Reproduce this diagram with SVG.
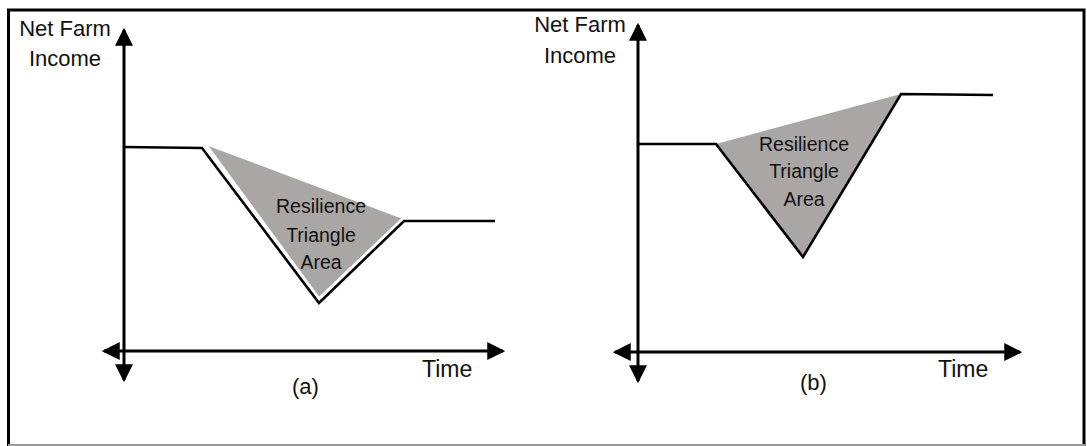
<svg xmlns="http://www.w3.org/2000/svg" width="1087" height="446" viewBox="0 0 1087 446">
<style>
  .axis { stroke:#000; stroke-width:3; fill:none; }
  .curve { stroke:#000; stroke-width:2.6; fill:none; stroke-linejoin:miter; }
  .area { fill:#a9a6a5; }
  .lbl { font-family:"Liberation Sans", Arial, sans-serif; fill:#111; }
  .axl { font-size:22px; text-anchor:middle; }
  .tm { font-size:23px; }
  .ar { font-size:19.5px; text-anchor:middle; }
</style>
<defs>
  <marker id="arr" markerUnits="userSpaceOnUse" markerWidth="18" markerHeight="18" viewBox="0 0 16 16" refX="14" refY="8" orient="auto-start-reverse">
    <path d="M0,0 L16,8 L0,16 z" fill="#000"/>
  </marker>
</defs>
<rect x="0" y="0" width="1087" height="446" fill="#fff"/>
<g id="frame">
  <path d="M8.5,446 L8.5,10 L1084,10 L1084,446" fill="none" stroke="#000" stroke-width="3"/>
  <line x1="8" y1="445" x2="1085" y2="445" stroke="#9a9a9a" stroke-width="2"/>
</g>
<g id="chart-a">
  <polygon class="area" points="206,144 403,218 319,298" stroke="#fff" stroke-width="2"/>
  <g id="connectors-a">
    <line class="axis" x1="124" y1="30" x2="124" y2="380" marker-start="url(#arr)" marker-end="url(#arr)"/>
    <line class="axis" x1="104" y1="351" x2="503" y2="351" marker-start="url(#arr)" marker-end="url(#arr)"/>
    <polyline class="curve" points="124,147 202,148 319,303 404,221 495,221"/>
  </g>
  <g id="labels-a">
    <text class="lbl axl" x="65" y="36">Net Farm</text>
    <text class="lbl axl" x="65" y="66">Income</text>
    <text class="lbl tm" x="422" y="377">Time</text>
    <text class="lbl axl" x="305.5" y="394">(a)</text>
    <text class="lbl ar" x="321" y="213">Resilience</text>
    <text class="lbl ar" x="321" y="242">Triangle</text>
    <text class="lbl ar" x="321" y="269">Area</text>
  </g>
</g>
<g id="chart-b">
  <polygon class="area" points="716,144 901,94 803,257"/>
  <g id="connectors-b">
    <line class="axis" x1="638" y1="25" x2="638" y2="381" marker-start="url(#arr)" marker-end="url(#arr)"/>
    <line class="axis" x1="615" y1="352" x2="1020" y2="352" marker-start="url(#arr)" marker-end="url(#arr)"/>
    <polyline class="curve" points="638,144 716,144 803,257 901,94 993,95"/>
  </g>
  <g id="labels-b">
    <text class="lbl axl" x="580" y="32">Net Farm</text>
    <text class="lbl axl" x="580" y="62.5">Income</text>
    <text class="lbl tm" x="938" y="377">Time</text>
    <text class="lbl axl" x="813.5" y="390">(b)</text>
    <text class="lbl ar" x="804" y="151">Resilience</text>
    <text class="lbl ar" x="804" y="178">Triangle</text>
    <text class="lbl ar" x="804" y="206">Area</text>
  </g>
</g>
</svg>
